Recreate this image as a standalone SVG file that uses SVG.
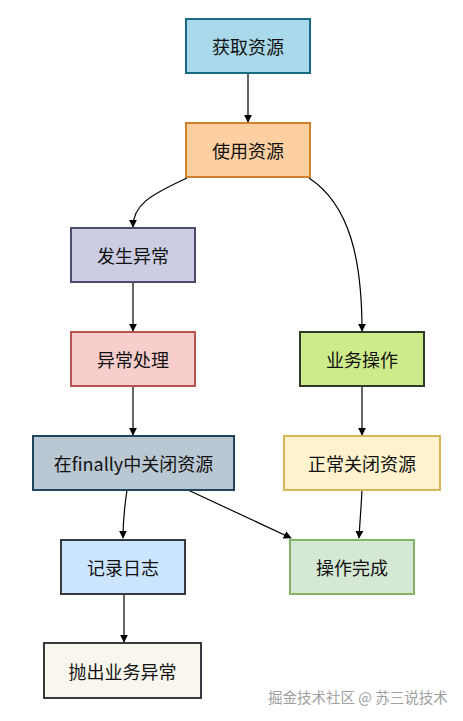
<svg xmlns="http://www.w3.org/2000/svg" width="463" height="721" viewBox="0 0 463 721">
<defs>
<style>
.n rect{stroke-width:2}
.n text{font-family:"Noto Sans CJK SC","Noto Sans",sans-serif;font-size:18px;fill:#111;text-anchor:middle;dominant-baseline:central}
.e path{fill:none;stroke:#000;stroke-width:1.2;marker-end:url(#arr)}
.wm{font-family:"Noto Sans CJK SC","Noto Sans",sans-serif;font-size:14.5px;fill:#a0a0a0}
</style>
<marker id="arr" viewBox="0 0 10 10" refX="9" refY="5" markerWidth="8" markerHeight="8" orient="auto" markerUnits="userSpaceOnUse">
<path d="M0,0 L10,5 L0,10 Z" fill="#000"/>
</marker>
</defs>
<rect width="463" height="721" fill="#fff"/>
<g id="edges" class="e">
<path d="M248,73 L248,122"/>
<path d="M187,178 C150,195 133,205 133,227"/>
<path d="M309,178 C350,205 362,260 362,331"/>
<path d="M133,282 L133,331"/>
<path d="M133,386 L133,435"/>
<path d="M362,386 L362,435"/>
<path d="M127,490 C124,510 123,520 123,538"/>
<path d="M188,490 L291,538"/>
<path d="M362,490 C361,510 360,520 359,538"/>
<path d="M124,594 L124,642"/>
</g>
<g id="n1" class="n"><rect x="186" y="19" width="124" height="54" fill="#a9d9ea" stroke="#1d6a85"/><text x="248" y="46">获取资源</text></g>
<g id="n2" class="n"><rect x="186" y="123" width="124" height="54" fill="#fdcfa1" stroke="#d0822f"/><text x="248" y="150">使用资源</text></g>
<g id="n3" class="n"><rect x="71" y="228" width="124" height="54" fill="#cccde3" stroke="#4c4d6b"/><text x="133" y="255">发生异常</text></g>
<g id="n4" class="n"><rect x="71" y="332" width="124" height="54" fill="#f8cecc" stroke="#b85450"/><text x="133" y="359">异常处理</text></g>
<g id="n5" class="n"><rect x="300" y="332" width="124" height="54" fill="#cdeb8b" stroke="#2e3a26"/><text x="362" y="359">业务操作</text></g>
<g id="n6" class="n"><rect x="33" y="436" width="201" height="54" fill="#bac8d3" stroke="#23445d"/><text x="133.5" y="463">在finally中关闭资源</text></g>
<g id="n7" class="n"><rect x="284" y="436" width="156" height="54" fill="#fff2cc" stroke="#d6b656"/><text x="362" y="463">正常关闭资源</text></g>
<g id="n8" class="n"><rect x="61" y="540" width="124" height="54" fill="#cce5ff" stroke="#36393d"/><text x="123" y="567">记录日志</text></g>
<g id="n9" class="n"><rect x="290" y="540" width="124" height="54" fill="#d5e8d4" stroke="#82b366"/><text x="352" y="567">操作完成</text></g>
<g id="n10" class="n"><rect x="44" y="643" width="157" height="55" fill="#f9f7ed" stroke="#36393d"/><text x="122.5" y="670.5">抛出业务异常</text></g>
<text class="wm" x="268" y="703">掘金技术社区 @ 苏三说技术</text>
</svg>
